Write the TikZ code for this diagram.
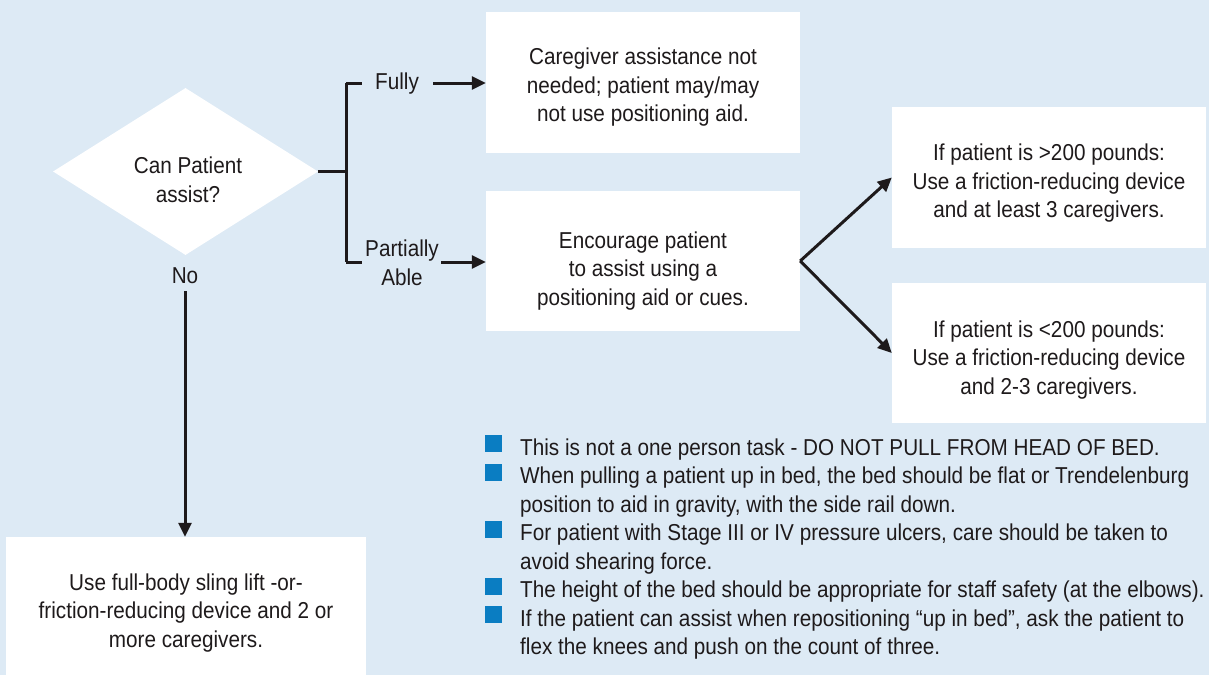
\documentclass[tikz,border=0pt]{standalone}
\usepackage{fontspec}
\setmainfont[FakeStretch=0.9]{Liberation Sans}
\usetikzlibrary{shapes.geometric,arrows.meta}
\definecolor{bgblue}{HTML}{DDEAF5}
\definecolor{bulblue}{HTML}{0A7DC2}
\definecolor{ink}{HTML}{1E1A1B}
\tikzset{
  txt/.style={font=\fontsize{23}{28.5}\selectfont, text=ink, align=center, inner sep=0pt},
  whitebox/.style={fill=white, draw=none, inner sep=0pt},
  conn/.style={draw=ink, line width=3pt},
  arr/.style={conn, -{Triangle[length=14pt,width=13pt]}},
  bul/.style={fill=bulblue, draw=none, minimum size=17pt, inner sep=0pt},
  bultxt/.style={font=\fontsize{23}{28.5}\selectfont, text=ink, anchor=base west, inner sep=0pt},
}
\begin{document}
\begin{tikzpicture}[x=1pt,y=-1pt]
\fill[bgblue] (0,0) rectangle (1209,675);
\useasboundingbox (0,0) rectangle (1209,675);

% decision
\node[diamond, fill=white, draw=none, inner sep=0pt, minimum width=265pt, minimum height=167pt] (dia) at (185.5,171.5) {};
\node[txt] (q) at (188,180) {Can Patient\\assist?};

% boxes
\node[whitebox, minimum width=314pt, minimum height=141pt] (b1) at (643,82.5) {};
\node[whitebox, minimum width=314pt, minimum height=140pt] (b2) at (643,261) {};
\node[whitebox, minimum width=314pt, minimum height=141pt] (b3) at (1049,177.5) {};
\node[whitebox, minimum width=314pt, minimum height=140pt] (b4) at (1049,353) {};
\node[whitebox, minimum width=360pt, minimum height=140pt] (b5) at (186,607) {};

\node[txt] (t1) at ([yshift=-5pt]b1.center) {Caregiver assistance not\\needed; patient may/may\\not use positioning aid.};
\node[txt] (t2) at ([yshift=-10pt]b2.center) {Encourage patient\\to assist using a\\positioning aid or cues.};
\node[txt] (t3) at ([yshift=-6pt]b3.center) {If patient is >200 pounds:\\Use a friction-reducing device\\and at least 3 caregivers.};
\node[txt] (t4) at ([yshift=-7pt]b4.center) {If patient is <200 pounds:\\Use a friction-reducing device\\and 2-3 caregivers.};
\node[txt] (t5) at ([yshift=-6pt]b5.center) {Use full-body sling lift -or-\\friction-reducing device and 2 or\\more caregivers.};

% labels
\node[txt] (fully) at (397,84) {Fully};
\node[txt] (part) at (402,263) {Partially\\Able};
\node[txt] (no) at (185,276) {No};

% connectors
\coordinate (jt) at (346,83);
\coordinate (jb) at (346,262);
\coordinate (J) at (jt |- dia.east);
\coordinate (fa) at (433,83);
\coordinate (pa) at (441,262);
\coordinate (na) at (185,291);
\draw[conn] (dia.east) -- (J);
\draw[conn] (jt) -- (jb);
\draw[conn] (jt) -- ++(16,0);
\draw[conn] (jb) -- ++(16,0);
\draw[arr] (fa) -- (b1.west |- fa);
\draw[arr] (pa) -- (b2.west |- pa);
\draw[arr] (b2.east) -- (b3.west);
\draw[arr] (b2.east) -- (b4.west);
\draw[arr] (na) -- (na |- b5.north);

% notes
\foreach \i/\y in {0/455,1/483.5,3/540.5,5/597.5,6/626}{
  \node[bul] (sq\i) at (493.5,\y-11.5) {};
}
\node[bultxt] (l1) at (520,455) {This is not a one person task - DO NOT PULL FROM HEAD OF BED.};
\node[bultxt] (l2) at (520,483.5) {When pulling a patient up in bed, the bed should be flat or Trendelenburg};
\node[bultxt] (l3) at (520,512) {position to aid in gravity, with the side rail down.};
\node[bultxt] (l4) at (520,540.5) {For patient with Stage III or IV pressure ulcers, care should be taken to};
\node[bultxt] (l5) at (520,569) {avoid shearing force.};
\node[bultxt] (l6) at (520,597.5) {The height of the bed should be appropriate for staff safety (at the elbows).};
\node[bultxt] (l7) at (520,626) {If the patient can assist when repositioning “up in bed”, ask the patient to};
\node[bultxt] (l8) at (520,654.5) {flex the knees and push on the count of three.};
\end{tikzpicture}
\end{document}
